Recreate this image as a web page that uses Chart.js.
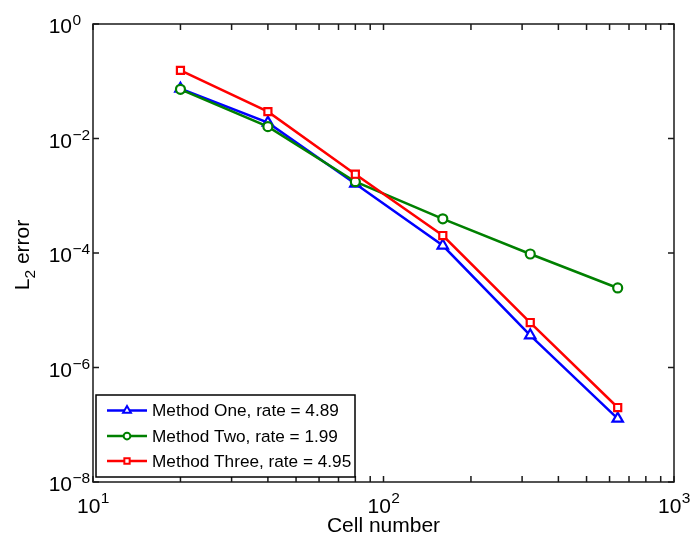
<!DOCTYPE html>
<html>
<head>
<meta charset="utf-8">
<script src="https://cdn.jsdelivr.net/npm/chart.js@4.4.1/dist/chart.umd.min.js"></script>
<style>
  html, body { margin: 0; padding: 0; background: #fff; }
  #wrap { width: 690px; height: 538px; position: relative; }
</style>
</head>
<body>
<div id="wrap"><canvas id="grafico"></canvas></div>
<script>
// ─── DATA ────────────────────────────────────────────────────────────────────
const cellNumbers = [20, 40, 80, 160, 320, 640];
const methodOne   = [0.074, 0.0189, 0.00162, 1.35e-4, 3.65e-6, 1.28e-7];
const methodTwo   = [0.0723, 0.0161, 0.00176, 3.96e-4, 9.6e-5, 2.45e-5];
const methodThree = [0.155, 0.0294, 0.00238, 2.02e-4, 6.1e-6, 2.0e-7];
const seriesLabels = ["Method One, rate = 4.89", "Method Two, rate = 1.99", "Method Three, rate = 4.95"];
const xTickExps = [1, 2, 3];
const yTickExps = [0, -2, -4, -6, -8];

const FONT = "'Liberation Sans', Arial, Helvetica, sans-serif";

const pts = ys => cellNumbers.map((x, i) => ({ x, y: ys[i] }));

function serie(label, ys, cor, estilo, raio, ordem){
  return {
    label, data: pts(ys),
    borderColor: cor, backgroundColor: "#fff",
    borderWidth: 2.5, pointBorderWidth: 2.2,
    pointStyle: estilo, pointRadius: raio, pointHoverRadius: raio,
    pointBackgroundColor: "#fff", pointBorderColor: cor,
    tension: 0, fill: false, order: ordem
  };
}

// box, inward ticks, superscript labels, titles and legend
const eixosMatlab = {
  id: "eixosMatlab",
  afterDraw(chart){
    const { ctx, chartArea: a, scales: { x, y } } = chart;
    ctx.save();
    ctx.strokeStyle = "#1a1a1a";
    ctx.lineWidth = 1.5;
    ctx.strokeRect(a.left, a.top, a.right - a.left, a.bottom - a.top);

    const tick = 6;
    ctx.beginPath();
    // x ticks: majors + log minors
    for(let e = xTickExps[0]; e <= xTickExps[xTickExps.length - 1]; e++){
      const mults = e < xTickExps[xTickExps.length - 1] ? [1,2,3,4,5,6,7,8,9] : [1];
      mults.forEach(m => {
        const px = x.getPixelForValue(m * Math.pow(10, e));
        ctx.moveTo(px, a.bottom); ctx.lineTo(px, a.bottom - tick);
        ctx.moveTo(px, a.top);    ctx.lineTo(px, a.top + tick);
      });
    }
    yTickExps.forEach(e => {
      const py = y.getPixelForValue(Math.pow(10, e));
      ctx.moveTo(a.left, py);  ctx.lineTo(a.left + tick, py);
      ctx.moveTo(a.right, py); ctx.lineTo(a.right - tick, py);
    });
    ctx.stroke();

    ctx.fillStyle = "#000";
    ctx.textBaseline = "alphabetic";
    const baseFont = "21px " + FONT, supFont = "15.5px " + FONT;

    // x tick labels, centred as a whole
    xTickExps.forEach(e => {
      const px = x.getPixelForValue(Math.pow(10, e));
      ctx.font = baseFont; const w1 = ctx.measureText("10").width;
      ctx.font = supFont;  const w2 = ctx.measureText(String(e)).width;
      const x0 = px - (w1 + w2) / 2;
      ctx.font = baseFont; ctx.textAlign = "left"; ctx.fillText("10", x0, a.bottom + 31);
      ctx.font = supFont;  ctx.fillText(String(e), x0 + w1 + 0.5, a.bottom + 21);
    });

    // y tick labels, "10" right aligned, exponent after it
    yTickExps.forEach(e => {
      const py = y.getPixelForValue(Math.pow(10, e));
      ctx.font = baseFont; ctx.textAlign = "right"; ctx.fillText("10", 72, py + 9);
      ctx.font = supFont;  ctx.textAlign = "left";  ctx.fillText(e === 0 ? "0" : "\u2212" + (-e), 72.5, py + 1);
    });

    // axis titles
    ctx.font = "21px " + FONT;
    ctx.textAlign = "center";
    ctx.fillText("Cell number", (a.left + a.right) / 2, 532);

    ctx.save();
    ctx.translate(29, (a.top + a.bottom) / 2 + 2);
    ctx.rotate(-Math.PI / 2);
    ctx.font = "21px " + FONT;
    const wL = ctx.measureText("L").width;
    ctx.font = "15.5px " + FONT;
    const w2 = ctx.measureText("2").width;
    ctx.font = "21px " + FONT;
    const wE = ctx.measureText(" error").width;
    let x0 = -(wL + w2 + wE) / 2;
    ctx.textAlign = "left";
    ctx.fillText("L", x0, 0);
    ctx.font = "15.5px " + FONT;
    ctx.fillText("2", x0 + wL, 6);
    ctx.font = "21px " + FONT;
    ctx.fillText(" error", x0 + wL + w2, 0);
    ctx.restore();

    // legend
    const lg = { left: 96, top: 395, right: 355, bottom: 477 };
    ctx.fillStyle = "#fff";
    ctx.fillRect(lg.left, lg.top, lg.right - lg.left, lg.bottom - lg.top);
    ctx.strokeStyle = "#000";
    ctx.lineWidth = 1.5;
    ctx.strokeRect(lg.left, lg.top, lg.right - lg.left, lg.bottom - lg.top);

    const linhas = [410.5, 436, 461];
    chart.data.datasets.forEach((ds, i) => {
      const yy = linhas[i];
      ctx.strokeStyle = ds.borderColor;
      ctx.lineWidth = 2.5;
      ctx.beginPath(); ctx.moveTo(107, yy); ctx.lineTo(147, yy); ctx.stroke();
      ctx.fillStyle = "#fff";
      ctx.lineWidth = 2;
      Chart.helpers.drawPoint(ctx, { pointStyle: ds.pointStyle, radius: ds.pointRadius * 0.75, borderWidth: 2, rotation: 0 }, 127, yy);
      ctx.fillStyle = "#000";
      ctx.font = "17.2px " + FONT;
      ctx.textAlign = "left";
      ctx.textBaseline = "middle";
      ctx.fillText(seriesLabels[i], 152, yy + 1);
    });
    ctx.restore();
  }
};

const canvas = document.getElementById("grafico");
new Chart(canvas.getContext("2d"), {
  type: "line",
  data: {
    datasets: [
      serie(seriesLabels[0], methodOne,   "#0000ff", "triangle", 6,   3),
      serie(seriesLabels[1], methodTwo,   "#008000", "circle",   4.5, 2),
      serie(seriesLabels[2], methodThree, "#ff0000", "rect",     5,   1)
    ]
  },
  options: {
    responsive: true, maintainAspectRatio: false, animation: false,
    layout: { padding: { left: 93, right: 16, top: 24, bottom: 56 } },
    plugins: { legend: { display: false }, tooltip: { enabled: false } },
    scales: {
      x: { type: "logarithmic", min: 10, max: 1000, display: false },
      y: { type: "logarithmic", min: 1e-8, max: 1, display: false }
    }
  },
  plugins: [eixosMatlab]
});
</script>
</body>
</html>
